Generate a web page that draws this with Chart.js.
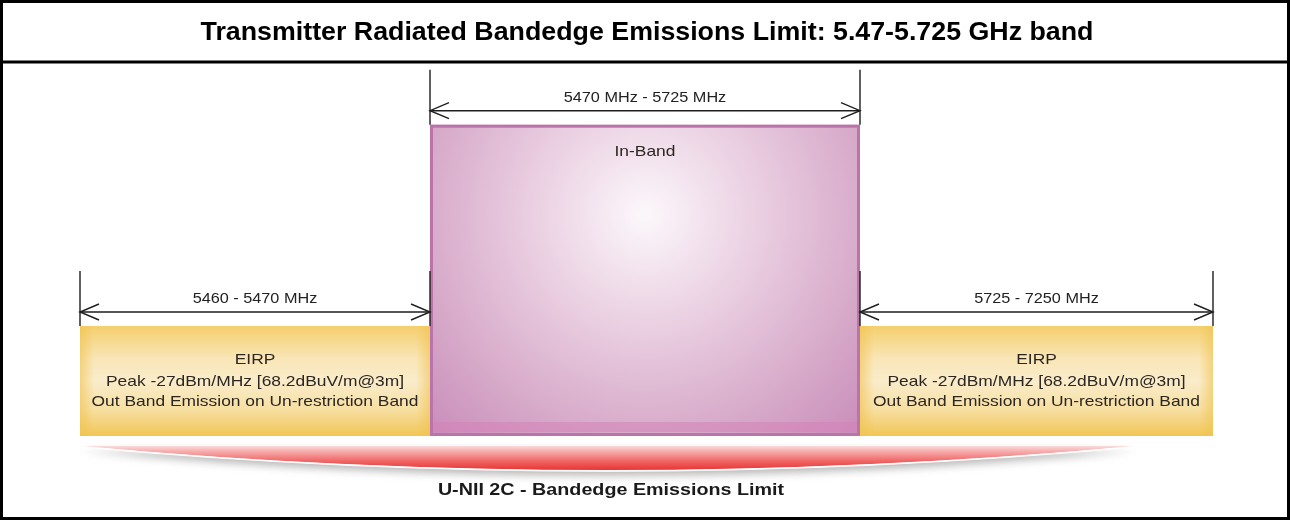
<!DOCTYPE html>
<html>
<head>
<meta charset="utf-8">
<title>Transmitter Radiated Bandedge Emissions Limit</title>
<script src="https://cdn.jsdelivr.net/npm/chart.js@4.4.1/dist/chart.umd.min.js"></script>
<style>
  html, body { margin: 0; padding: 0; background: #fff; }
  #wrap { width: 1290px; height: 520px; position: relative; }
</style>
</head>
<body>
<div id="wrap"><canvas id="chart"></canvas></div>
<script>
// diagram data (x in diagram units, level relative to the out-of-band limit)
const chartTitle = 'Transmitter Radiated Bandedge Emissions Limit: 5.47-5.725 GHz band';
const bandLabels = ['5460 - 5470 MHz', '5470 MHz - 5725 MHz', '5725 - 7250 MHz'];
const bandStart = [80, 430, 860];
const bandEnd = [430, 860, 1213];
const bandLevel = [1, 2.83, 1];
const bandNotes = [
  ['EIRP', 'Peak -27dBm/MHz [68.2dBuV/m@3m]', 'Out Band Emission on Un-restriction Band'],
  ['In-Band'],
  ['EIRP', 'Peak -27dBm/MHz [68.2dBuV/m@3m]', 'Out Band Emission on Un-restriction Band']
];
const bandKind = ['out', 'in', 'out'];
const lensSpan = [82, 1134];
const footLabel = 'U-NII 2C - Bandedge Emissions Limit';

const FONT = '"Liberation Sans", Arial, sans-serif';
const STRETCH = 1.16; // the source text is a little wider than Arial

function wideText(c, text, x, y, font, stretch) {
  c.save();
  c.translate(x, y);
  c.scale(stretch || STRETCH, 1);
  c.font = font;
  c.fillText(text, 0, 0);
  c.restore();
}

function bandFill(ctx) {
  const chart = ctx.chart;
  if (!chart.chartArea) return 'rgba(0,0,0,0)';
  const i = ctx.datasetIndex;
  const c = chart.ctx;
  const xs = chart.scales.x, ys = chart.scales.y;
  const x0 = xs.getPixelForValue(bandStart[i]);
  const x1 = xs.getPixelForValue(bandEnd[i]);
  const yTop = ys.getPixelForValue(bandLevel[i]);
  const yBot = ys.getPixelForValue(0);
  if (bandKind[i] === 'in') {
    const cx = (x0 + x1) / 2;
    const g = c.createRadialGradient(cx, yTop + 90, 5, cx, yTop + 90, 330);
    g.addColorStop(0, '#fbf6fa');
    g.addColorStop(0.35, '#e9cde0');
    g.addColorStop(0.7, '#d5a6c7');
    g.addColorStop(1, '#c585b6');
    return g;
  }
  const g = c.createLinearGradient(0, yTop, 0, yBot);
  g.addColorStop(0, '#f5cf6e');
  g.addColorStop(0.3, '#f9e6b8');
  g.addColorStop(0.5, '#faecca');
  g.addColorStop(0.75, '#f7e0a4');
  g.addColorStop(1, '#f2c656');
  return g;
}

const datasets = bandLabels.map((lab, i) => ({
  label: lab,
  data: [{ x: bandStart[i], y: bandLevel[i] }, { x: bandEnd[i], y: bandLevel[i] }],
  fill: 'origin',
  backgroundColor: bandFill,
  borderWidth: 0,
  pointRadius: 0,
  tension: 0
}));

function arrowHead(c, x, y, dir) {
  c.beginPath();
  c.moveTo(x + dir * 19, y - 8);
  c.lineTo(x, y);
  c.lineTo(x + dir * 19, y + 8);
  c.stroke();
}

const diagramPlugin = {
  id: 'diagram',
  beforeDraw(chart) {
    const c = chart.ctx;
    c.save();
    c.fillStyle = '#fff';
    c.fillRect(0, 0, chart.width, chart.height);
    c.restore();
  },
  afterDatasetsDraw(chart) {
    const c = chart.ctx;
    const xs = chart.scales.x, ys = chart.scales.y;
    const base = ys.getPixelForValue(0);
    c.save();

    // edges of the blocks
    bandLabels.forEach((lab, i) => {
      const x0 = xs.getPixelForValue(bandStart[i]);
      const x1 = xs.getPixelForValue(bandEnd[i]);
      const yTop = ys.getPixelForValue(bandLevel[i]);
      if (bandKind[i] === 'in') {
        c.fillStyle = 'rgba(214,130,184,0.55)';
        c.fillRect(x0 + 3, base - 14, x1 - x0 - 6, 10);
        c.strokeStyle = '#bb74aa';
        c.lineWidth = 3;
        c.strokeRect(x0 + 1.5, yTop + 1.5, x1 - x0 - 3, base - yTop - 3);
      } else {
        const g = c.createLinearGradient(x0, 0, x1, 0);
        g.addColorStop(0, 'rgba(240,195,80,0.6)');
        g.addColorStop(0.04, 'rgba(240,195,80,0)');
        g.addColorStop(0.96, 'rgba(240,195,80,0)');
        g.addColorStop(1, 'rgba(240,195,80,0.6)');
        c.fillStyle = g;
        c.fillRect(x0, yTop, x1 - x0, base - yTop);
      }
    });

    // dimension lines
    c.strokeStyle = '#1e1e1e';
    c.lineWidth = 1.4;
    c.textAlign = 'center';
    c.textBaseline = 'middle';
    bandLabels.forEach((lab, i) => {
      const x0 = xs.getPixelForValue(bandStart[i]);
      const x1 = xs.getPixelForValue(bandEnd[i]);
      const yTop = ys.getPixelForValue(bandLevel[i]);
      const yArrow = yTop - 14;
      c.beginPath();
      c.moveTo(x0, yTop - 55); c.lineTo(x0, yTop);
      c.moveTo(x1, yTop - 55); c.lineTo(x1, yTop);
      c.moveTo(x0, yArrow); c.lineTo(x1, yArrow);
      c.stroke();
      arrowHead(c, x0, yArrow, 1);
      arrowHead(c, x1, yArrow, -1);
      c.fillStyle = '#222';
      wideText(c, lab, (x0 + x1) / 2, yTop - 27, '14px ' + FONT);

      // notes inside the block
      c.fillStyle = '#2c2620';
      const offs = bandKind[i] === 'in' ? [27] : [34, 56, 76];
      bandNotes[i].forEach((t, k) => wideText(c, t, (x0 + x1) / 2, yTop + offs[k], '15px ' + FONT));
    });

    // red lens underneath
    const lx0 = xs.getPixelForValue(lensSpan[0]);
    const lx1 = xs.getPixelForValue(lensSpan[1]);
    const lTop = base + 10;
    const lMid = (lx0 + lx1) / 2;
    c.save();
    c.shadowColor = 'rgba(120,120,120,0.55)';
    c.shadowBlur = 8;
    c.shadowOffsetY = 4;
    c.beginPath();
    c.moveTo(lx0, lTop + 1);
    c.lineTo(lx1, lTop + 1);
    c.quadraticCurveTo(lMid, lTop + 50, lx0, lTop + 1);
    c.closePath();
    c.fillStyle = '#fff';
    c.fill();
    c.restore();
    c.beginPath();
    c.moveTo(lx0, lTop);
    c.lineTo(lx1, lTop);
    c.quadraticCurveTo(lMid, lTop + 48, lx0, lTop);
    c.closePath();
    const rg = c.createLinearGradient(0, lTop - 4, 0, lTop + 24);
    rg.addColorStop(0, 'rgba(255,255,255,1)');
    rg.addColorStop(0.3, '#f8b4b4');
    rg.addColorStop(0.7, '#f06262');
    rg.addColorStop(1, '#e83434');
    c.fillStyle = rg;
    c.fill();
    c.strokeStyle = 'rgba(255,255,255,0.9)';
    c.lineWidth = 1.5;
    c.beginPath();
    c.moveTo(lx1, lTop + 1);
    c.quadraticCurveTo(lMid, lTop + 49, lx0, lTop + 1);
    c.stroke();

    // foot label
    c.fillStyle = '#1a1a1a';
    wideText(c, footLabel, lMid + 3, base + 54, 'bold 17px ' + FONT);

    // title row and frame
    c.fillStyle = '#000';
    wideText(c, chartTitle, chart.width / 2 + 2, 33, 'bold 26px ' + FONT, 1.03);
    c.strokeStyle = '#000';
    c.lineWidth = 3;
    c.beginPath();
    c.moveTo(0, 62); c.lineTo(chart.width, 62);
    c.stroke();
    c.strokeRect(1.5, 1.5, chart.width - 3, chart.height - 3);
    c.restore();
  }
};

new Chart(document.getElementById('chart'), {
  type: 'line',
  data: { datasets },
  options: {
    responsive: true,
    maintainAspectRatio: false,
    animation: false,
    layout: { padding: { top: 62, bottom: 7, left: 0, right: 0 } },
    plugins: { legend: { display: false }, tooltip: { enabled: false }, title: { display: false } },
    scales: {
      x: { type: 'linear', min: 0, max: 1290, display: false },
      y: { type: 'linear', min: -0.7, max: 3.4, display: false }
    }
  },
  plugins: [diagramPlugin]
});
</script>
</body>
</html>
